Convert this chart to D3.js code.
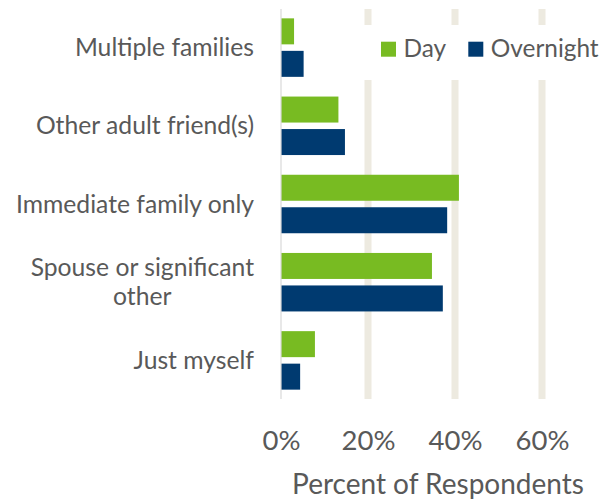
<!DOCTYPE html>
<html>
<head>
<meta charset="utf-8">
<script src="https://cdn.jsdelivr.net/npm/d3@7"></script>
<style>
  html, body { margin: 0; padding: 0; background: #ffffff; }
  svg { display: block; font-family: "Lato", "Open Sans", sans-serif; }
</style>
</head>
<body>
<svg id="chart" width="603" height="503"></svg>
<script>
// ---- data ----
const categories = ["Multiple families", "Other adult friend(s)", "Immediate family only", "Spouse or significant other", "Just myself"];
const seriesNames = ["Day", "Overnight"];
const dayValues = [3.0, 13.2, 40.9, 34.7, 7.8];
const overnightValues = [5.2, 14.7, 38.2, 37.2, 4.4];
const tickValues = [0, 20, 40, 60];
const axisTitle = "Percent of Respondents";

const colors = { "Day": "#78BB22", "Overnight": "#003A70" };

const svg = d3.select("#chart");
const x0 = 281, x1 = 281 + 3 * 87; // 0%..60%
const x = d3.scaleLinear().domain([0, 60]).range([x0, x1]);
const y = d3.scaleBand().domain(categories).range([8.5, 399.5]).paddingInner(0.252).paddingOuter(0.126);
const ySub = d3.scaleBand().domain(seriesNames).range([0, y.bandwidth()]).paddingInner(0.2).paddingOuter(0);

const textColor = "#595959";

// gridlines
svg.append("g").selectAll("rect").data(tickValues.filter(d => d > 0)).join("rect")
  .attr("x", d => x(d) - 3.5).attr("y", 9).attr("width", 7).attr("height", 390)
  .attr("fill", "#EDEAE0");

// bars
const rows = categories.map((c, i) => ({ cat: c, values: [
  { s: "Day", v: dayValues[i] }, { s: "Overnight", v: overnightValues[i] }] }));
const g = svg.append("g").selectAll("g").data(rows).join("g")
  .attr("transform", d => `translate(0,${y(d.cat)})`);
g.selectAll("rect").data(d => d.values).join("rect")
  .attr("x", x(0)).attr("y", d => ySub(d.s))
  .attr("width", d => x(d.v) - x(0)).attr("height", ySub.bandwidth())
  .attr("fill", d => colors[d.s]);

// axis line
svg.append("line").attr("x1", x0).attr("x2", x0).attr("y1", 9).attr("y2", 399)
  .attr("stroke", "#D9D9D9").attr("stroke-width", 1.2);

// category labels
const labelRight = 254;
svg.append("g").selectAll("text").data(categories).join("text")
  .attr("fill", textColor).attr("font-size", 24.7)
  .each(function(d) {
    const t = d3.select(this);
    const cy = y(d) + y.bandwidth() / 2;
    const lines = d === "Spouse or significant other" ? ["Spouse or significant", "other"] : [d];
    const lh = 29;
    if (lines.length === 1) {
      t.attr("text-anchor", "end").attr("x", labelRight).attr("y", cy + 8.5).text(d);
    } else {
      // measure first line to center block
      const tmp = t.append("tspan").text(lines[0]);
      const w = tmp.node().getComputedTextLength();
      tmp.remove();
      const cx = labelRight - w / 2;
      t.attr("text-anchor", "middle");
      lines.forEach((ln, i) => {
        const off = (i - (lines.length - 1) / 2) * lh;
        t.append("tspan").attr("x", cx).attr("y", cy + 8.5 + off).text(ln);
      });
    }
  });

// x axis tick labels via d3 axis
const axis = d3.axisBottom(x).tickValues(tickValues).tickFormat(d => d + "%").tickSize(0).tickPadding(0);
const ax = svg.append("g").attr("transform", "translate(0,449.5)").call(axis);
ax.select(".domain").remove();
ax.selectAll("text").attr("fill", textColor).attr("font-size", 27.5)
  .attr("font-family", "Lato, sans-serif").attr("dy", 0).attr("y", 0);

// axis title
svg.append("text").attr("x", 438).attr("y", 494).attr("text-anchor", "middle")
  .attr("fill", textColor).attr("font-size", 28).text(axisTitle);

// legend
const leg = svg.append("g");
leg.append("rect").attr("x", 360).attr("y", 25).attr("width", 243).attr("height", 55).attr("fill", "#ffffff");
const legX = [381, 468.3];
seriesNames.forEach((s, i) => {
  leg.append("rect").attr("x", legX[i]).attr("y", 41.7).attr("width", 15).attr("height", 15).attr("fill", colors[s]);
  leg.append("text").attr("x", legX[i] + 22.5).attr("y", 56.7).attr("fill", textColor)
    .attr("font-size", 24.4).text(s);
});
</script>
</body>
</html>
